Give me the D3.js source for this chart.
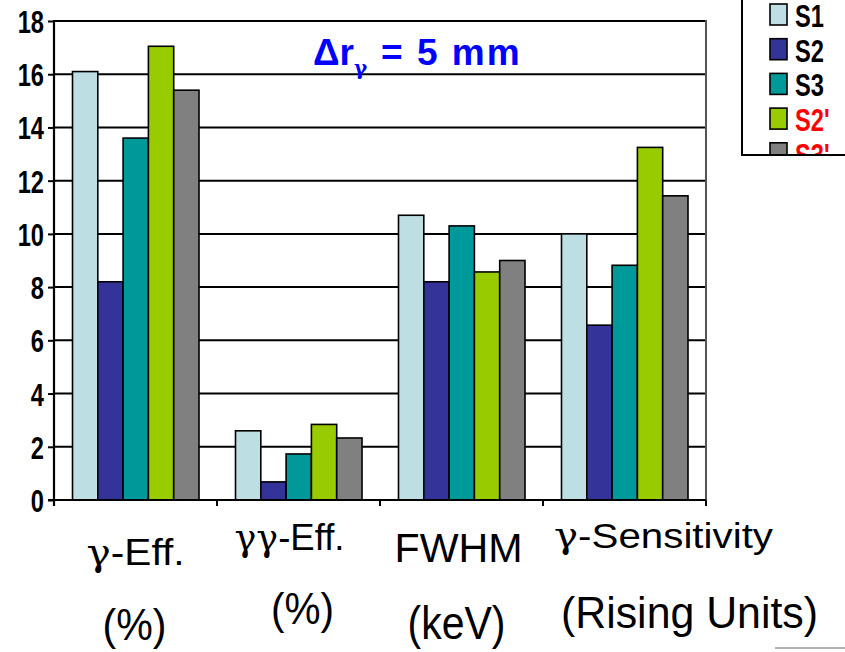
<!DOCTYPE html>
<html>
<head>
<meta charset="utf-8">
<script src="https://cdn.jsdelivr.net/npm/d3@7"></script>
<style>
  html, body { margin: 0; padding: 0; background: #ffffff; }
  svg { display: block; }
</style>
</head>
<body>
<svg id="chart" width="845" height="652"></svg>
<script>
// Detector configurations and the four figures of merit
const series = ["S1", "S2", "S3", "S2'", "S3'"];
const groups = ["gEff", "ggEff", "fwhm", "gSens"];
const labelLine1 = ["γ-Eff.", "γγ-Eff.", "FWHM", "γ-Sensitivity"];
const labelLine2 = ["(%)", "(%)", "(keV)", "(Rising Units)"];

const valuesS1  = [16.1, 2.6, 10.7, 10.0];
const valuesS2  = [8.2, 0.68, 8.2, 6.57];
const valuesS3  = [13.6, 1.73, 10.3, 8.82];
const valuesS2p = [17.05, 2.84, 8.57, 13.25];
const valuesS3p = [15.4, 2.33, 9.0, 11.43];

const yTicks = [0, 2, 4, 6, 8, 10, 12, 14, 16, 18];
const titleMain = "Δr";
const titleSub = "γ";
const titleRest = "= 5 mm";

const seriesValues = [valuesS1, valuesS2, valuesS3, valuesS2p, valuesS3p];
const fills = ["#bddfe3", "#333399", "#009999", "#99cc00", "#808080"];
const legendText = ["#000000", "#000000", "#000000", "#ff0000", "#ff0000"];

const svg = d3.select("#chart");
const plot = { left: 54, right: 706, top: 21, bottom: 500 };

const x0 = d3.scaleBand().domain(groups).range([plot.left, plot.right]).paddingInner(0).paddingOuter(0);
const x1 = d3.scaleBand().domain(series).range([18.5, x0.bandwidth() - 18]).padding(0);
const y = d3.scaleLinear().domain([0, 18]).range([plot.bottom, plot.top]);

// horizontal gridlines
svg.append("g")
  .selectAll("line")
  .data(yTicks.filter(d => d > 0))
  .join("line")
  .attr("x1", plot.left).attr("x2", plot.right)
  .attr("y1", d => y(d)).attr("y2", d => y(d))
  .attr("stroke", "#000").attr("stroke-width", 2);

// right frame edge
svg.append("line")
  .attr("x1", plot.right).attr("x2", plot.right)
  .attr("y1", plot.top - 1).attr("y2", plot.bottom)
  .attr("stroke", "#555").attr("stroke-width", 2);

// bars
const rows = [];
groups.forEach((g, gi) => series.forEach((s, si) => rows.push({ g, s, si, v: seriesValues[si][gi] })));
svg.append("g")
  .selectAll("rect")
  .data(rows)
  .join("rect")
  .attr("x", d => x0(d.g) + x1(d.s))
  .attr("y", d => y(d.v))
  .attr("width", x1.bandwidth())
  .attr("height", d => y(0) - y(d.v))
  .attr("fill", d => fills[d.si])
  .attr("stroke", "#000")
  .attr("stroke-width", 1.6);

const sansFam = "'Liberation Sans', Arial, sans-serif";
const serifFam = "'DejaVu Serif', 'Liberation Serif', serif";

// y axis
const yAxis = svg.append("g")
  .attr("transform", `translate(${plot.left},0)`)
  .call(d3.axisLeft(y).tickValues(yTicks).tickSize(6).tickPadding(0).tickFormat(d3.format("d")));
yAxis.select(".domain").attr("stroke", "#000").attr("stroke-width", 2.2)
  .attr("d", `M0,${plot.top - 1}V${plot.bottom + 6}`);
yAxis.selectAll(".tick line").attr("stroke", "#000").attr("stroke-width", 2);
yAxis.selectAll(".tick text")
  .attr("x", null).attr("dy", null)
  .attr("transform", "translate(-10,11.5) scale(0.74,1)")
  .attr("text-anchor", "end")
  .attr("font-family", sansFam)
  .attr("font-weight", "bold")
  .attr("font-size", 32)
  .attr("fill", "#000");

// x axis
const xAxis = svg.append("g")
  .attr("transform", `translate(0,${plot.bottom})`);
xAxis.append("line")
  .attr("x1", plot.left - 6).attr("x2", plot.right)
  .attr("y1", 0).attr("y2", 0)
  .attr("stroke", "#000").attr("stroke-width", 2.2);
const xTickPos = groups.map(g => x0(g)).concat([plot.right]);
xAxis.selectAll("line.xt")
  .data(xTickPos)
  .join("line")
  .attr("class", "xt")
  .attr("x1", d => d).attr("x2", d => d)
  .attr("y1", 0).attr("y2", 6)
  .attr("stroke", "#000").attr("stroke-width", 2);

// category labels (two lines, γ set in a serif face)
const labelLayout = [
  { dx1: 0,   b1: 565, w1: 98,  f1: 37, dx2: -1,  b2: 640, w2: 64,  f2: 45 },
  { dx1: -9,  b1: 550, w1: 110, f1: 37, dx2: 4,   b2: 624, w2: 63,  f2: 45 },
  { dx1: -3,  b1: 562, w1: 128, f1: 40, dx2: -5,  b2: 639, w2: 98,  f2: 46 },
  { dx1: 39,  b1: 548, w1: 219, f1: 35, dx2: 65,  b2: 628, w2: 257, f2: 45 }
];

function writeLabel(txt, cx, base, width, size) {
  const t = svg.append("text")
    .attr("x", cx - width / 2)
    .attr("y", base)
    .attr("font-size", size)
    .attr("font-family", sansFam)
    .attr("fill", "#000")
    .attr("textLength", width)
    .attr("lengthAdjust", "spacingAndGlyphs");
  const m = txt.match(/^(γ+)(.*)$/);
  if (m) {
    t.append("tspan").attr("font-family", serifFam).text(m[1]);
    t.append("tspan").text(m[2]);
  } else {
    t.text(txt);
  }
}
groups.forEach((g, i) => {
  const c = x0(g) + x0.bandwidth() / 2;
  const L = labelLayout[i];
  writeLabel(labelLine1[i], c + L.dx1, L.b1, L.w1, L.f1);
  writeLabel(labelLine2[i], c + L.dx2, L.b2, L.w2, L.f2);
});

// title: Δr with a γ subscript, then "= 5 mm", as one text run
const title = svg.append("text")
  .attr("x", 313).attr("y", 65)
  .attr("fill", "#0000ff")
  .attr("font-family", sansFam).attr("font-weight", "bold")
  .attr("font-size", 37);
title.append("tspan").text(titleMain);
title.append("tspan")
  .attr("dy", 10).attr("font-size", 20).attr("font-family", serifFam)
  .text(titleSub);
title.append("tspan")
  .attr("x", 381).attr("dy", -10).attr("letter-spacing", 2)
  .text(titleRest);

// legend (box runs off the top/right edges)
svg.append("defs").append("clipPath").attr("id", "legclip")
  .append("rect").attr("x", 741).attr("y", 0).attr("width", 110).attr("height", 155);
const leg = svg.append("g");
const legItems = leg.append("g").attr("clip-path", "url(#legclip)");
const pitch = 34.7;
series.forEach((s, i) => {
  const top = 4 + i * pitch;
  legItems.append("rect")
    .attr("x", 770).attr("y", top)
    .attr("width", 17).attr("height", 21)
    .attr("fill", fills[i]).attr("stroke", "#000").attr("stroke-width", 1.6);
  legItems.append("text")
    .attr("transform", `translate(795,${top + 23}) scale(0.74,1)`)
    .attr("font-family", sansFam).attr("font-weight", "bold")
    .attr("font-size", 32)
    .attr("fill", legendText[i])
    .text(s);
});
leg.append("path")
  .attr("d", "M742,0V155H845")
  .attr("fill", "none").attr("stroke", "#000").attr("stroke-width", 2);

// faint rule at the bottom-right corner
svg.append("line")
  .attr("x1", 775).attr("x2", 845).attr("y1", 648).attr("y2", 648)
  .attr("stroke", "#999").attr("stroke-width", 1.5);
</script>
</body>
</html>
